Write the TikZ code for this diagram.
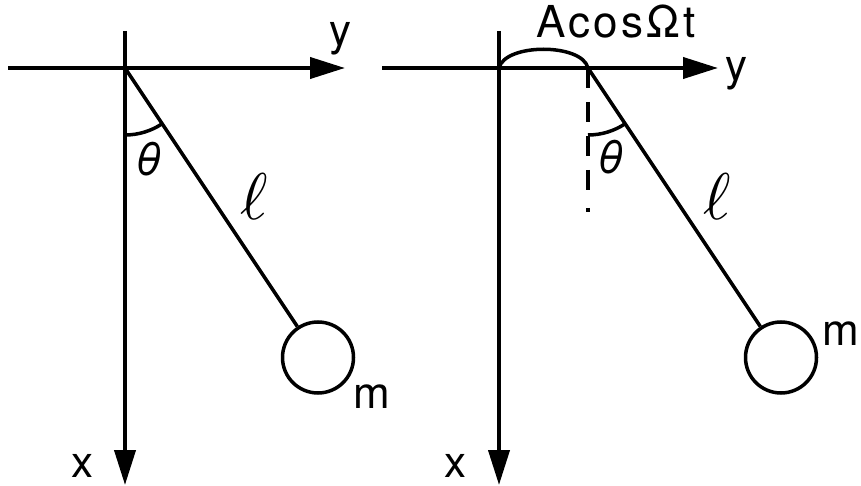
\documentclass[tikz,border=0pt]{standalone}
\usepackage{fix-cm}
\usepackage{fontspec}
\setmainfont{TeX Gyre Heros}
\usetikzlibrary{arrows.meta}
\begin{document}
\begin{tikzpicture}[x=1pt,y=-1pt,
  axis/.style={line width=4pt,-{Triangle[length=35pt,width=21pt]}},
  rod/.style={line width=3.5pt},
  bob/.style={circle,draw,line width=3.5pt,minimum size=71pt,inner sep=0pt},
  lab/.style={font=\fontsize{44}{48}\selectfont,inner sep=0pt,anchor=base},
  ang/.style={font=\fontsize{45}{48}\selectfont\itshape,inner sep=0pt},
  len/.style={inner sep=0pt},
  dashline/.style={line width=4pt,dash pattern=on 20pt off 14pt on 20pt off 14pt on 20pt off 14pt on 20pt off 18pt on 4pt}
  ]
\useasboundingbox (0,0) rectangle (861,486);
% ---------- left panel ----------
\coordinate (L0) at (125,68);
\coordinate (LxS) at (125,31);
\coordinate (LxE) at (125,485);
\coordinate (LyS) at (8,68);
\coordinate (LyE) at (345,68);
\draw[axis] (LxS) -- (LxE);
\draw[axis] (LyS) -- (LyE);
\node[bob] (M1) at (318,357.5) {};
\draw[rod] (L0) -- (M1);
\draw[rod] (L0) ++(90:67) arc[start angle=90,end angle=56.3,radius=67];
\node[ang] (T1) at (149,159) {θ};
\node[len] (l1) at (254,197) {\scalebox{6.6}{$\ell$}};
\node[lab] (y1) at (340,46) {y};
\node[lab] (x1) at (82,477) {x};
\node[lab] (m1) at (372,408) {m};
% ---------- right panel ----------
\coordinate (R0) at (499,68);
\coordinate (P2) at (588,68);
\coordinate (RxS) at (499,31);
\coordinate (RxE) at (499,485);
\coordinate (RyS) at (382,68);
\coordinate (RyE) at (718,68);
\coordinate (D2) at (588,212);
\draw[axis] (RxS) -- (RxE);
\draw[axis] (RyS) -- (RyE);
\draw[rod] (R0) .. controls (505,43) and (582,43) .. (P2);
\draw[dashline] (P2) -- (D2);
\node[bob] (M2) at (781,357.5) {};
\draw[rod] (P2) -- (M2);
\draw[rod] (P2) ++(90:67) arc[start angle=90,end angle=56.3,radius=67];
\node[ang] (T2) at (611,157) {θ};
\node[len] (l2) at (717,197) {\scalebox{6.6}{$\ell$}};
\node[lab] (A2) at (616,38) {\addfontfeature{LetterSpace=7}AcosΩt};
\node[lab] (y2) at (736,81) {y};
\node[lab] (x2) at (455,477) {x};
\node[lab] (m2) at (841,345) {m};
\end{tikzpicture}
\end{document}
